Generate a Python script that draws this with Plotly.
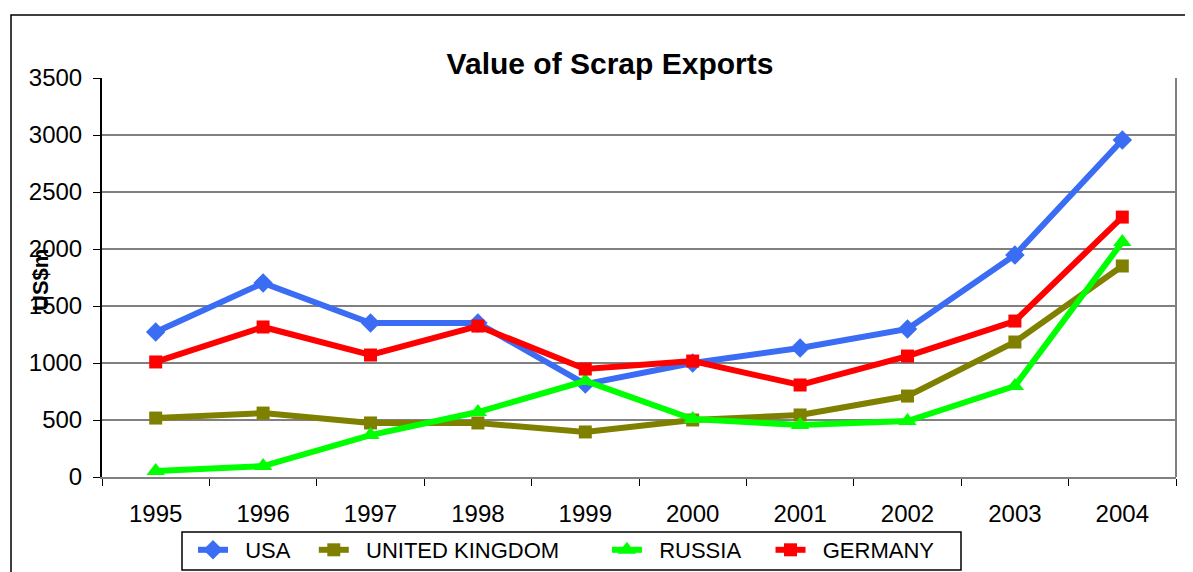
import plotly.graph_objects as go

years = ["1995", "1996", "1997", "1998", "1999", "2000", "2001", "2002", "2003", "2004"]
usa = [1272, 1702, 1351, 1351, 815, 1000, 1132, 1298, 1947, 2956]
uk = [517, 561, 474, 474, 395, 500, 544, 710, 1184, 1851]
russia = [53, 96, 368, 570, 842, 509, 456, 491, 798, 2061]
germany = [1009, 1316, 1070, 1324, 947, 1017, 807, 1061, 1368, 2280]
names = ["USA", "UNITED KINGDOM", "RUSSIA", "GERMANY"]

# style: colour, marker, marker size, legend spacing (leading/trailing nbsp)
styles = [
    ("#3A6CF4", "diamond", 15, 2, 3),
    ("#808000", "square", 13, 2, 7),
    ("#00FF00", "triangle-up", 16, 2, 4),
    ("#FF0000", "square", 13, 2, 0),
]

NB = "\u00a0"
fig = go.Figure()
for name, vals, (color, sym, size, lead, trail) in zip(names, [usa, uk, russia, germany], styles):
    fig.add_trace(go.Scatter(
        x=years, y=vals, name=NB * lead + name + NB * trail, mode="lines+markers",
        line=dict(color=color, width=6),
        marker=dict(symbol=sym, size=size, color=color),
    ))

# page body has an 8px margin; the figure is sized/offset to compensate
W, H = 1185, 564
L, T, R, B = 94, 70, 17, 95
PW, PH = 1074, 399
def px(x):
    return (x - 102) / PW
def py(y):
    return (477 - y) / PH

font = "Liberation Sans, Arial, sans-serif"
fig.update_layout(
    width=W, height=H,
    margin=dict(l=L, r=R, t=T, b=B, autoexpand=False),
    paper_bgcolor="white", plot_bgcolor="white",
    font=dict(family=font, size=24, color="black"),
    title=dict(text="<b>Value of Scrap Exports</b>", x=(610 - 8) / W, xanchor="center",
               y=1 - (63 - 8) / H, yanchor="middle", font=dict(size=30)),
    showlegend=True,
    legend=dict(orientation="h", x=px(193), xanchor="left",
                y=py(529), yanchor="top", bgcolor="rgba(0,0,0,0)",
                borderwidth=0, font=dict(size=22),
                itemwidth=30, tracegroupgap=0),
    xaxis=dict(type="category", tickson="boundaries", ticks="outside", ticklen=7,
               tickcolor="black", showline=True, linecolor="#808080", linewidth=2,
               showgrid=False, mirror=False, range=[-0.5, 9.5],
               tickfont=dict(size=24), ticklabelstandoff=14),
    yaxis=dict(range=[0, 3500], tickvals=[0, 500, 1000, 1500, 2000, 2500, 3000, 3500],
               ticks="outside", ticklen=7, tickcolor="black", showline=True,
               linecolor="black", linewidth=2, gridcolor="#808080", gridwidth=1.5,
               zeroline=False, tickfont=dict(size=24), ticklabelstandoff=6),
)

# right border of plot area
fig.add_shape(type="line", xref="paper", yref="paper", x0=1, x1=1, y0=0, y1=1,
              line=dict(color="#808080", width=2))
# outer chart border (extends beyond canvas on right/bottom)
fig.add_shape(type="rect", xref="paper", yref="paper",
              x0=px(11), x1=2, y0=-2, y1=py(15),
              line=dict(color="black", width=1.5), layer="below")
# legend frame
fig.add_shape(type="rect", xref="paper", yref="paper",
              x0=px(182), x1=px(961), y0=py(570), y1=py(532),
              line=dict(color="black", width=1.5), fillcolor="white", layer="below")

fig.add_annotation(text="<b>US$m</b>", xref="paper", yref="paper",
                   x=px(40), y=py(280), textangle=-90,
                   showarrow=False, font=dict(size=22), xanchor="center", yanchor="middle")

fig.write_html("out.html")
